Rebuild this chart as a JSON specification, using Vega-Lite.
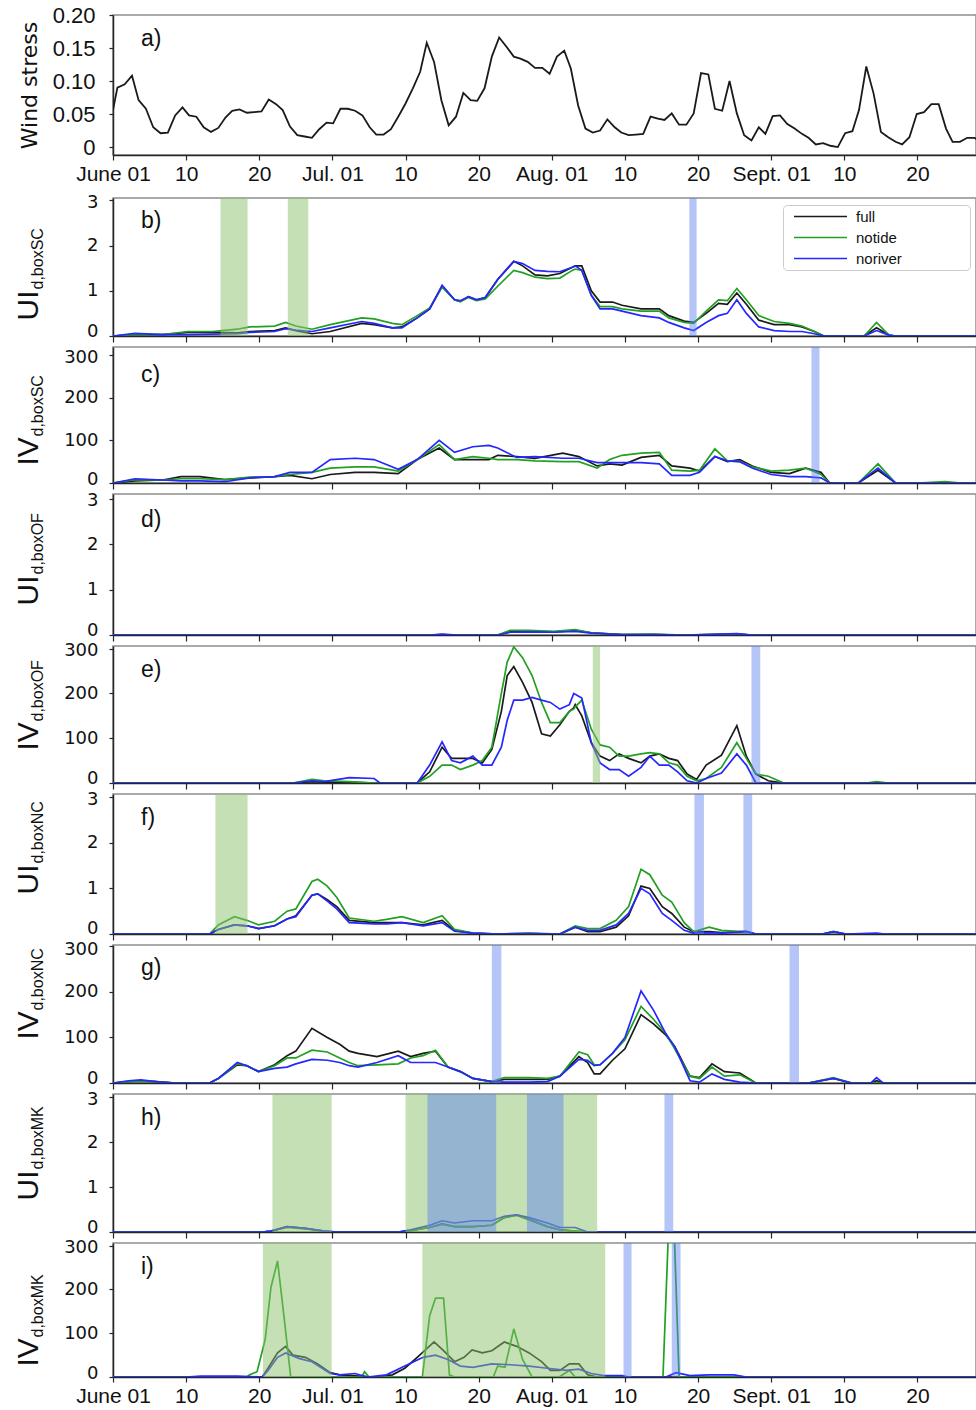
{
"$schema": "https://vega.github.io/schema/vega-lite/v6.json",
"padding": {"left": 12, "top": 3, "right": 0, "bottom": 0},
"background": "white",
"bounds": "flush",
"spacing": 43,
"resolve": {"scale": {"color": "independent"}},
"datasets": {
"wind": [
{"d":0,"v":0.056},{"d":0.6,"v":0.09},{"d":1.6,"v":0.095},{"d":2.6,"v":0.108},{"d":3.5,"v":0.071},{"d":4.5,"v":0.058},{"d":5.5,"v":0.03},{"d":6.5,"v":0.021},{"d":7.5,"v":0.022},{"d":8.5,"v":0.048},
{"d":9.5,"v":0.06},{"d":10.4,"v":0.048},{"d":11.4,"v":0.046},{"d":12.4,"v":0.03},{"d":13.4,"v":0.023},{"d":14.4,"v":0.029},{"d":15.4,"v":0.045},{"d":16.3,"v":0.055},{"d":17.3,"v":0.057},{"d":18.3,"v":0.052},
{"d":19.3,"v":0.053},{"d":20.3,"v":0.054},{"d":21.3,"v":0.072},{"d":22.3,"v":0.065},{"d":23.2,"v":0.056},{"d":24.2,"v":0.031},{"d":25.2,"v":0.018},{"d":26.2,"v":0.016},{"d":27.2,"v":0.014},{"d":28.2,"v":0.027},
{"d":29.2,"v":0.037},{"d":30.1,"v":0.036},{"d":31.1,"v":0.058},{"d":32.1,"v":0.058},{"d":33.1,"v":0.055},{"d":34.1,"v":0.048},{"d":35.1,"v":0.03},{"d":36,"v":0.019},{"d":37,"v":0.019},{"d":38,"v":0.027},
{"d":39,"v":0.046},{"d":40,"v":0.066},{"d":41,"v":0.089},{"d":42,"v":0.114},{"d":42.9,"v":0.158},{"d":43.9,"v":0.129},{"d":44.9,"v":0.071},{"d":45.9,"v":0.033},{"d":46.9,"v":0.046},{"d":47.9,"v":0.082},
{"d":48.9,"v":0.071},{"d":49.8,"v":0.07},{"d":50.8,"v":0.089},{"d":51.8,"v":0.137},{"d":52.8,"v":0.166},{"d":53.8,"v":0.152},{"d":54.8,"v":0.137},{"d":55.7,"v":0.134},{"d":56.7,"v":0.129},{"d":57.7,"v":0.12},
{"d":58.7,"v":0.12},{"d":59.7,"v":0.111},{"d":60.7,"v":0.137},{"d":61.7,"v":0.146},{"d":62.6,"v":0.119},{"d":63.6,"v":0.063},{"d":64.6,"v":0.028},{"d":65.6,"v":0.022},{"d":66.6,"v":0.025},{"d":67.6,"v":0.042},
{"d":68.6,"v":0.03},{"d":69.5,"v":0.022},{"d":70.5,"v":0.018},{"d":71.5,"v":0.019},{"d":72.5,"v":0.02},{"d":73.5,"v":0.046},{"d":74.5,"v":0.043},{"d":75.4,"v":0.041},{"d":76.4,"v":0.051},{"d":77.4,"v":0.034},
{"d":78.4,"v":0.034},{"d":79.4,"v":0.051},{"d":80.4,"v":0.112},{"d":81.4,"v":0.11},{"d":82.3,"v":0.058},{"d":83.3,"v":0.055},{"d":84.3,"v":0.1},{"d":85.3,"v":0.051},{"d":86.3,"v":0.018},{"d":87.3,"v":0.01},
{"d":88.3,"v":0.03},{"d":89.2,"v":0.02},{"d":90.2,"v":0.047},{"d":91.2,"v":0.048},{"d":92.2,"v":0.035},{"d":93.2,"v":0.028},{"d":94.2,"v":0.02},{"d":95.1,"v":0.014},{"d":96.1,"v":0.004},{"d":97.1,"v":0.006},
{"d":98.1,"v":0.002},{"d":99.1,"v":0},{"d":100.1,"v":0.021},{"d":101.1,"v":0.024},{"d":102,"v":0.056},{"d":103,"v":0.122},{"d":104,"v":0.081},{"d":105,"v":0.023},{"d":106,"v":0.015},{"d":107,"v":0.008},
{"d":107.9,"v":0.004},{"d":108.9,"v":0.015},{"d":109.9,"v":0.05},{"d":110.9,"v":0.053},{"d":111.9,"v":0.065},{"d":112.9,"v":0.065},{"d":113.9,"v":0.028},{"d":114.8,"v":0.008},{"d":115.8,"v":0.008},{"d":116.8,"v":0.014},
{"d":117.8,"v":0.014},{"d":118.5,"v":0.008}
],
"bands": [
{"p":"b","kind":"notide","d":14.7,"d2":18.4},
{"p":"b","kind":"notide","d":23.9,"d2":26.7},
{"p":"b","kind":"noriver","d":78.8,"d2":79.8},
{"p":"c","kind":"noriver","d":95.5,"d2":96.6},
{"p":"e","kind":"notide","d":65.6,"d2":66.6},
{"p":"e","kind":"noriver","d":87.3,"d2":88.5},
{"p":"f","kind":"notide","d":14.0,"d2":18.4},
{"p":"f","kind":"noriver","d":79.5,"d2":80.8},
{"p":"f","kind":"noriver","d":86.2,"d2":87.4},
{"p":"g","kind":"noriver","d":51.8,"d2":53.1},
{"p":"g","kind":"noriver","d":92.5,"d2":93.8},
{"p":"h","kind":"notide","d":21.8,"d2":29.9},
{"p":"h","kind":"notide","d":40.0,"d2":66.2},
{"p":"h","kind":"noriver","d":43.0,"d2":52.4},
{"p":"h","kind":"noriver","d":56.6,"d2":61.6},
{"p":"h","kind":"noriver","d":75.4,"d2":76.6},
{"p":"i","kind":"notide","d":20.5,"d2":29.9},
{"p":"i","kind":"notide","d":42.3,"d2":67.3},
{"p":"i","kind":"noriver","d":69.8,"d2":70.9},
{"p":"i","kind":"noriver","d":76.4,"d2":77.6}
],
"series": [
{"p":"b","d":0,"full":0,"notide":0,"noriver":0},
{"p":"b","d":3,"full":0.03,"notide":0.03,"noriver":0.06},
{"p":"b","d":6.8,"full":0.03,"notide":0.03,"noriver":0.03},
{"p":"b","d":10.2,"full":0.08,"notide":0.1,"noriver":0.03},
{"p":"b","d":13.6,"full":0.08,"notide":0.1,"noriver":0.04},
{"p":"b","d":17,"full":0.07,"notide":0.15,"noriver":0.05},
{"p":"b","d":18.7,"full":0.1,"notide":0.2,"noriver":0.08},
{"p":"b","d":22.1,"full":0.12,"notide":0.22,"noriver":0.1},
{"p":"b","d":23.6,"full":0.18,"notide":0.3,"noriver":0.16},
{"p":"b","d":25,"full":0.12,"notide":0.22,"noriver":0.13},
{"p":"b","d":27.2,"full":0.05,"notide":0.15,"noriver":0.1},
{"p":"b","d":29.7,"full":0.1,"notide":0.25,"noriver":0.18},
{"p":"b","d":34,"full":0.28,"notide":0.4,"noriver":0.32},
{"p":"b","d":35.7,"full":0.25,"notide":0.38,"noriver":0.28},
{"p":"b","d":38.2,"full":0.18,"notide":0.28,"noriver":0.18},
{"p":"b","d":39.5,"full":0.2,"notide":0.25,"noriver":0.18},
{"p":"b","d":41.6,"full":0.4,"notide":0.45,"noriver":0.4},
{"p":"b","d":43.3,"full":0.6,"notide":0.62,"noriver":0.6},
{"p":"b","d":45,"full":1.1,"notide":1.08,"noriver":1.12},
{"p":"b","d":46.7,"full":0.8,"notide":0.8,"noriver":0.8},
{"p":"b","d":47.5,"full":0.76,"notide":0.76,"noriver":0.78},
{"p":"b","d":48.6,"full":0.87,"notide":0.85,"noriver":0.87},
{"p":"b","d":49.7,"full":0.8,"notide":0.78,"noriver":0.8},
{"p":"b","d":50.9,"full":0.85,"notide":0.82,"noriver":0.85},
{"p":"b","d":52.6,"full":1.25,"notide":1.1,"noriver":1.25},
{"p":"b","d":54.8,"full":1.65,"notide":1.45,"noriver":1.65},
{"p":"b","d":56,"full":1.55,"notide":1.4,"noriver":1.6},
{"p":"b","d":57.7,"full":1.35,"notide":1.3,"noriver":1.45},
{"p":"b","d":59.4,"full":1.33,"notide":1.27,"noriver":1.43},
{"p":"b","d":61.1,"full":1.38,"notide":1.28,"noriver":1.42},
{"p":"b","d":62.8,"full":1.52,"notide":1.45,"noriver":1.52},
{"p":"b","d":63.2,"full":1.55,"notide":1.48,"noriver":1.55},
{"p":"b","d":64.1,"full":1.55,"notide":1.45,"noriver":1.45},
{"p":"b","d":65.4,"full":1,"notide":0.9,"noriver":0.9},
{"p":"b","d":66.6,"full":0.75,"notide":0.65,"noriver":0.6},
{"p":"b","d":68.3,"full":0.75,"notide":0.65,"noriver":0.6},
{"p":"b","d":69.6,"full":0.68,"notide":0.6,"noriver":0.55},
{"p":"b","d":72.2,"full":0.6,"notide":0.55,"noriver":0.45},
{"p":"b","d":74.7,"full":0.6,"notide":0.55,"noriver":0.4},
{"p":"b","d":76,"full":0.45,"notide":0.4,"noriver":0.3},
{"p":"b","d":78.1,"full":0.33,"notide":0.3,"noriver":0.18},
{"p":"b","d":79.4,"full":0.3,"notide":0.28,"noriver":0.12},
{"p":"b","d":81.1,"full":0.5,"notide":0.55,"noriver":0.3},
{"p":"b","d":82.8,"full":0.72,"notide":0.8,"noriver":0.45},
{"p":"b","d":84,"full":0.7,"notide":0.78,"noriver":0.5},
{"p":"b","d":85.3,"full":0.95,"notide":1.05,"noriver":0.8},
{"p":"b","d":86.6,"full":0.7,"notide":0.8,"noriver":0.5},
{"p":"b","d":88.3,"full":0.35,"notide":0.45,"noriver":0.2},
{"p":"b","d":90.4,"full":0.25,"notide":0.32,"noriver":0.12},
{"p":"b","d":92.5,"full":0.25,"notide":0.28,"noriver":0.1},
{"p":"b","d":94.2,"full":0.2,"notide":0.22,"noriver":0.1},
{"p":"b","d":95.9,"full":0.1,"notide":0.1,"noriver":0.05},
{"p":"b","d":97.2,"full":0,"notide":0,"noriver":0},
{"p":"b","d":102.7,"full":0,"notide":0,"noriver":0},
{"p":"b","d":104.4,"full":0.18,"notide":0.3,"noriver":0.12},
{"p":"b","d":106.1,"full":0.02,"notide":0.02,"noriver":0.02},
{"p":"b","d":107,"full":0,"notide":0,"noriver":0},
{"p":"b","d":118,"full":0,"notide":0,"noriver":0},

{"p":"c","d":0,"full":0,"notide":0,"noriver":0},
{"p":"c","d":3,"full":5,"notide":8,"noriver":10},
{"p":"c","d":6.8,"full":7,"notide":7,"noriver":7},
{"p":"c","d":9.3,"full":15,"notide":10,"noriver":5},
{"p":"c","d":11.9,"full":15,"notide":10,"noriver":5},
{"p":"c","d":15.3,"full":8,"notide":8,"noriver":3},
{"p":"c","d":18.7,"full":12,"notide":14,"noriver":12},
{"p":"c","d":22.1,"full":15,"notide":15,"noriver":15},
{"p":"c","d":24.2,"full":18,"notide":20,"noriver":25},
{"p":"c","d":27.2,"full":10,"notide":25,"noriver":25},
{"p":"c","d":29.7,"full":20,"notide":35,"noriver":55},
{"p":"c","d":33.1,"full":25,"notide":38,"noriver":58},
{"p":"c","d":35.7,"full":25,"notide":38,"noriver":55},
{"p":"c","d":39,"full":22,"notide":28,"noriver":32},
{"p":"c","d":41.6,"full":55,"notide":55,"noriver":55},
{"p":"c","d":44.6,"full":82,"notide":90,"noriver":100},
{"p":"c","d":46.7,"full":55,"notide":55,"noriver":72},
{"p":"c","d":49.2,"full":55,"notide":62,"noriver":85},
{"p":"c","d":51.4,"full":55,"notide":58,"noriver":88},
{"p":"c","d":52.6,"full":65,"notide":55,"noriver":82},
{"p":"c","d":55.2,"full":62,"notide":55,"noriver":60},
{"p":"c","d":57.7,"full":58,"notide":52,"noriver":62},
{"p":"c","d":61.5,"full":70,"notide":50,"noriver":58},
{"p":"c","d":63.7,"full":62,"notide":50,"noriver":58},
{"p":"c","d":66.2,"full":40,"notide":35,"noriver":48},
{"p":"c","d":67.9,"full":45,"notide":55,"noriver":48},
{"p":"c","d":69.6,"full":42,"notide":65,"noriver":48},
{"p":"c","d":72.2,"full":60,"notide":70,"noriver":48},
{"p":"c","d":74.7,"full":65,"notide":72,"noriver":45},
{"p":"c","d":76.4,"full":40,"notide":30,"noriver":18},
{"p":"c","d":78.9,"full":35,"notide":28,"noriver":18},
{"p":"c","d":80.2,"full":28,"notide":30,"noriver":25},
{"p":"c","d":82.3,"full":62,"notide":80,"noriver":62},
{"p":"c","d":84,"full":50,"notide":52,"noriver":52},
{"p":"c","d":85.7,"full":55,"notide":50,"noriver":50},
{"p":"c","d":87.4,"full":40,"notide":38,"noriver":35},
{"p":"c","d":90,"full":25,"notide":28,"noriver":20},
{"p":"c","d":92.5,"full":22,"notide":30,"noriver":15},
{"p":"c","d":94.7,"full":35,"notide":35,"noriver":15},
{"p":"c","d":96.8,"full":25,"notide":20,"noriver":12},
{"p":"c","d":98,"full":0,"notide":0,"noriver":0},
{"p":"c","d":101.9,"full":0,"notide":0,"noriver":0},
{"p":"c","d":104.6,"full":30,"notide":45,"noriver":35},
{"p":"c","d":107,"full":0,"notide":0,"noriver":0},
{"p":"c","d":110,"full":0,"notide":0,"noriver":0},
{"p":"c","d":113.8,"full":0,"notide":3,"noriver":0},
{"p":"c","d":116,"full":0,"notide":0,"noriver":0},
{"p":"c","d":118,"full":0,"notide":0,"noriver":0},

{"p":"d","d":0,"full":0,"notide":0,"noriver":0},
{"p":"d","d":43.3,"full":0,"notide":0,"noriver":0},
{"p":"d","d":45,"full":0.01,"notide":0,"noriver":0.02},
{"p":"d","d":47,"full":0,"notide":0,"noriver":0},
{"p":"d","d":52.6,"full":0,"notide":0,"noriver":0},
{"p":"d","d":54.3,"full":0.08,"notide":0.1,"noriver":0.06},
{"p":"d","d":56.9,"full":0.08,"notide":0.1,"noriver":0.07},
{"p":"d","d":60.3,"full":0.07,"notide":0.08,"noriver":0.06},
{"p":"d","d":63.2,"full":0.1,"notide":0.12,"noriver":0.08},
{"p":"d","d":65.4,"full":0.05,"notide":0.05,"noriver":0.04},
{"p":"d","d":69.6,"full":0.01,"notide":0.01,"noriver":0.01},
{"p":"d","d":73.9,"full":0.01,"notide":0.02,"noriver":0.01},
{"p":"d","d":78.1,"full":0,"notide":0,"noriver":0},
{"p":"d","d":85.3,"full":0.02,"notide":0.02,"noriver":0.03},
{"p":"d","d":87.4,"full":0,"notide":0,"noriver":0},
{"p":"d","d":118,"full":0,"notide":0,"noriver":0},

{"p":"e","d":0,"full":0,"notide":0,"noriver":0},
{"p":"e","d":24.6,"full":0,"notide":0,"noriver":0},
{"p":"e","d":27.2,"full":3,"notide":8,"noriver":5},
{"p":"e","d":28.9,"full":2,"notide":5,"noriver":3},
{"p":"e","d":32.3,"full":2,"notide":3,"noriver":12},
{"p":"e","d":35.7,"full":0,"notide":0,"noriver":10},
{"p":"e","d":36.5,"full":0,"notide":0,"noriver":0},
{"p":"e","d":41.6,"full":0,"notide":0,"noriver":0},
{"p":"e","d":43.3,"full":25,"notide":15,"noriver":40},
{"p":"e","d":45,"full":80,"notide":40,"noriver":92},
{"p":"e","d":46.3,"full":55,"notide":40,"noriver":50},
{"p":"e","d":47.5,"full":55,"notide":30,"noriver":45},
{"p":"e","d":49.2,"full":55,"notide":40,"noriver":60},
{"p":"e","d":50.5,"full":45,"notide":50,"noriver":40},
{"p":"e","d":51.8,"full":75,"notide":80,"noriver":40},
{"p":"e","d":53.1,"full":160,"notide":200,"noriver":80},
{"p":"e","d":53.9,"full":240,"notide":270,"noriver":140},
{"p":"e","d":54.8,"full":260,"notide":304,"noriver":185},
{"p":"e","d":56,"full":225,"notide":280,"noriver":185},
{"p":"e","d":57.3,"full":180,"notide":240,"noriver":191},
{"p":"e","d":58.6,"full":110,"notide":180,"noriver":185},
{"p":"e","d":59.8,"full":105,"notide":135,"noriver":180},
{"p":"e","d":61.1,"full":130,"notide":135,"noriver":165},
{"p":"e","d":62.4,"full":160,"notide":160,"noriver":175},
{"p":"e","d":63,"full":168,"notide":165,"noriver":200},
{"p":"e","d":63.2,"full":175,"notide":170,"noriver":198},
{"p":"e","d":64.1,"full":150,"notide":185,"noriver":190},
{"p":"e","d":65.4,"full":90,"notide":120,"noriver":90},
{"p":"e","d":66.6,"full":60,"notide":85,"noriver":45},
{"p":"e","d":67.9,"full":50,"notide":80,"noriver":30},
{"p":"e","d":69.2,"full":65,"notide":60,"noriver":30},
{"p":"e","d":70.5,"full":55,"notide":60,"noriver":15},
{"p":"e","d":72.2,"full":45,"notide":65,"noriver":35},
{"p":"e","d":73.4,"full":60,"notide":68,"noriver":60},
{"p":"e","d":74.7,"full":65,"notide":65,"noriver":40},
{"p":"e","d":76,"full":55,"notide":45,"noriver":40},
{"p":"e","d":77.2,"full":50,"notide":40,"noriver":25},
{"p":"e","d":78.5,"full":20,"notide":15,"noriver":5},
{"p":"e","d":79.8,"full":8,"notide":5,"noriver":0},
{"p":"e","d":81.1,"full":40,"notide":10,"noriver":10},
{"p":"e","d":83.2,"full":62,"notide":35,"noriver":22},
{"p":"e","d":85.3,"full":128,"notide":90,"noriver":65},
{"p":"e","d":86.6,"full":60,"notide":55,"noriver":40},
{"p":"e","d":87.9,"full":20,"notide":20,"noriver":0},
{"p":"e","d":89.6,"full":5,"notide":15,"noriver":0},
{"p":"e","d":91.7,"full":0,"notide":0,"noriver":0},
{"p":"e","d":103,"full":0,"notide":0,"noriver":0},
{"p":"e","d":104.4,"full":0,"notide":3,"noriver":0},
{"p":"e","d":106,"full":0,"notide":0,"noriver":0},
{"p":"e","d":118,"full":0,"notide":0,"noriver":0},

{"p":"f","d":0,"full":0,"notide":0,"noriver":0},
{"p":"f","d":13.2,"full":0,"notide":0,"noriver":0},
{"p":"f","d":14.4,"full":0.1,"notide":0.2,"noriver":0.1},
{"p":"f","d":16.6,"full":0.2,"notide":0.38,"noriver":0.2},
{"p":"f","d":18.3,"full":0.18,"notide":0.3,"noriver":0.18},
{"p":"f","d":19.9,"full":0.12,"notide":0.2,"noriver":0.12},
{"p":"f","d":22.1,"full":0.18,"notide":0.28,"noriver":0.18},
{"p":"f","d":23.8,"full":0.33,"notide":0.5,"noriver":0.33},
{"p":"f","d":25,"full":0.4,"notide":0.55,"noriver":0.38},
{"p":"f","d":27.2,"full":0.85,"notide":1.15,"noriver":0.85},
{"p":"f","d":28,"full":0.88,"notide":1.2,"noriver":0.88},
{"p":"f","d":29.3,"full":0.75,"notide":1.05,"noriver":0.72},
{"p":"f","d":30.6,"full":0.6,"notide":0.8,"noriver":0.55},
{"p":"f","d":32.3,"full":0.3,"notide":0.35,"noriver":0.25},
{"p":"f","d":35.7,"full":0.25,"notide":0.28,"noriver":0.22},
{"p":"f","d":37.4,"full":0.25,"notide":0.32,"noriver":0.22},
{"p":"f","d":39.5,"full":0.25,"notide":0.38,"noriver":0.25},
{"p":"f","d":42.4,"full":0.2,"notide":0.25,"noriver":0.18},
{"p":"f","d":45,"full":0.3,"notide":0.4,"noriver":0.25},
{"p":"f","d":46.7,"full":0.08,"notide":0.1,"noriver":0.06},
{"p":"f","d":49.2,"full":0.02,"notide":0.02,"noriver":0.02},
{"p":"f","d":52.6,"full":0,"notide":0,"noriver":0},
{"p":"f","d":56.9,"full":0.01,"notide":0.02,"noriver":0.01},
{"p":"f","d":61.1,"full":0,"notide":0,"noriver":0},
{"p":"f","d":63.2,"full":0.15,"notide":0.18,"noriver":0.15},
{"p":"f","d":64.9,"full":0.05,"notide":0.12,"noriver":0.08},
{"p":"f","d":66.6,"full":0.05,"notide":0.12,"noriver":0.08},
{"p":"f","d":68.8,"full":0.15,"notide":0.3,"noriver":0.2},
{"p":"f","d":70.5,"full":0.4,"notide":0.6,"noriver":0.45},
{"p":"f","d":72.2,"full":1.05,"notide":1.42,"noriver":1},
{"p":"f","d":73.4,"full":1,"notide":1.3,"noriver":0.88},
{"p":"f","d":75.1,"full":0.6,"notide":0.85,"noriver":0.45},
{"p":"f","d":76.4,"full":0.45,"notide":0.7,"noriver":0.3},
{"p":"f","d":78.1,"full":0.15,"notide":0.25,"noriver":0.08},
{"p":"f","d":79.4,"full":0.05,"notide":0.05,"noriver":0.02},
{"p":"f","d":81.5,"full":0.05,"notide":0.15,"noriver":0.03},
{"p":"f","d":83.2,"full":0.03,"notide":0.08,"noriver":0.02},
{"p":"f","d":86.6,"full":0.06,"notide":0.05,"noriver":0.05},
{"p":"f","d":87.9,"full":0,"notide":0,"noriver":0},
{"p":"f","d":97,"full":0,"notide":0,"noriver":0},
{"p":"f","d":98.5,"full":0.05,"notide":0.05,"noriver":0.05},
{"p":"f","d":100.2,"full":0,"notide":0,"noriver":0},
{"p":"f","d":104.4,"full":0,"notide":0,"noriver":0.02},
{"p":"f","d":105.5,"full":0,"notide":0,"noriver":0},
{"p":"f","d":118,"full":0,"notide":0,"noriver":0},

{"p":"g","d":0,"full":0,"notide":0,"noriver":0},
{"p":"g","d":2.1,"full":3,"notide":3,"noriver":5},
{"p":"g","d":3.8,"full":4,"notide":4,"noriver":7},
{"p":"g","d":5.9,"full":3,"notide":3,"noriver":3},
{"p":"g","d":8.5,"full":0,"notide":0,"noriver":0},
{"p":"g","d":13.2,"full":0,"notide":0,"noriver":0},
{"p":"g","d":14.4,"full":10,"notide":10,"noriver":10},
{"p":"g","d":17,"full":40,"notide":42,"noriver":45},
{"p":"g","d":18.3,"full":38,"notide":38,"noriver":38},
{"p":"g","d":19.9,"full":25,"notide":25,"noriver":25},
{"p":"g","d":22.1,"full":40,"notide":38,"noriver":32},
{"p":"g","d":23.8,"full":60,"notide":55,"noriver":35},
{"p":"g","d":25,"full":70,"notide":55,"noriver":42},
{"p":"g","d":27.2,"full":120,"notide":72,"noriver":52},
{"p":"g","d":29.3,"full":100,"notide":68,"noriver":50},
{"p":"g","d":31,"full":85,"notide":55,"noriver":45},
{"p":"g","d":32.3,"full":70,"notide":45,"noriver":38},
{"p":"g","d":33.5,"full":65,"notide":38,"noriver":35},
{"p":"g","d":36.1,"full":58,"notide":40,"noriver":45},
{"p":"g","d":39,"full":70,"notide":42,"noriver":60},
{"p":"g","d":40.7,"full":58,"notide":55,"noriver":45},
{"p":"g","d":42.4,"full":65,"notide":60,"noriver":45},
{"p":"g","d":44.1,"full":70,"notide":72,"noriver":45},
{"p":"g","d":45.8,"full":35,"notide":35,"noriver":35},
{"p":"g","d":47.5,"full":25,"notide":25,"noriver":25},
{"p":"g","d":49.2,"full":10,"notide":10,"noriver":10},
{"p":"g","d":51.8,"full":3,"notide":3,"noriver":3},
{"p":"g","d":53.5,"full":8,"notide":12,"noriver":2},
{"p":"g","d":56.9,"full":8,"notide":12,"noriver":2},
{"p":"g","d":59.4,"full":8,"notide":10,"noriver":3},
{"p":"g","d":61.1,"full":15,"notide":15,"noriver":15},
{"p":"g","d":63.7,"full":58,"notide":68,"noriver":52},
{"p":"g","d":64.9,"full":45,"notide":62,"noriver":50},
{"p":"g","d":65.8,"full":20,"notide":40,"noriver":38},
{"p":"g","d":66.6,"full":20,"notide":40,"noriver":40},
{"p":"g","d":68.3,"full":50,"notide":65,"noriver":65},
{"p":"g","d":70,"full":75,"notide":95,"noriver":100},
{"p":"g","d":72.2,"full":150,"notide":168,"noriver":202},
{"p":"g","d":73.9,"full":130,"notide":140,"noriver":160},
{"p":"g","d":75.6,"full":105,"notide":108,"noriver":108},
{"p":"g","d":76.8,"full":80,"notide":75,"noriver":80},
{"p":"g","d":78.9,"full":15,"notide":15,"noriver":5},
{"p":"g","d":80.2,"full":12,"notide":10,"noriver":2},
{"p":"g","d":81.9,"full":42,"notide":35,"noriver":20},
{"p":"g","d":83.6,"full":25,"notide":15,"noriver":8},
{"p":"g","d":85.7,"full":22,"notide":18,"noriver":2},
{"p":"g","d":87.9,"full":0,"notide":0,"noriver":0},
{"p":"g","d":95.1,"full":0,"notide":0,"noriver":0},
{"p":"g","d":98.5,"full":10,"notide":12,"noriver":10},
{"p":"g","d":101,"full":0,"notide":0,"noriver":0},
{"p":"g","d":103.6,"full":0,"notide":0,"noriver":0},
{"p":"g","d":104.4,"full":5,"notide":0,"noriver":12},
{"p":"g","d":105.3,"full":0,"notide":0,"noriver":0},
{"p":"g","d":118,"full":0,"notide":0,"noriver":0},

{"p":"h","d":0,"full":0,"notide":0,"noriver":0},
{"p":"h","d":20.4,"full":0,"notide":0,"noriver":0},
{"p":"h","d":21.6,"full":0.02,"notide":0.02,"noriver":0.02},
{"p":"h","d":23.8,"full":0.12,"notide":0.1,"noriver":0.12},
{"p":"h","d":26.3,"full":0.08,"notide":0.07,"noriver":0.08},
{"p":"h","d":28.9,"full":0.02,"notide":0.02,"noriver":0.02},
{"p":"h","d":30.6,"full":0,"notide":0,"noriver":0},
{"p":"h","d":39,"full":0,"notide":0,"noriver":0},
{"p":"h","d":40.7,"full":0.03,"notide":0.03,"noriver":0.05},
{"p":"h","d":43.3,"full":0.1,"notide":0.1,"noriver":0.15},
{"p":"h","d":45,"full":0.18,"notide":0.17,"noriver":0.25},
{"p":"h","d":46.7,"full":0.12,"notide":0.12,"noriver":0.2},
{"p":"h","d":49.2,"full":0.12,"notide":0.12,"noriver":0.25},
{"p":"h","d":51.8,"full":0.15,"notide":0.15,"noriver":0.25},
{"p":"h","d":53.5,"full":0.32,"notide":0.32,"noriver":0.35},
{"p":"h","d":55.2,"full":0.38,"notide":0.37,"noriver":0.38},
{"p":"h","d":56.9,"full":0.28,"notide":0.27,"noriver":0.32},
{"p":"h","d":59.4,"full":0.12,"notide":0.12,"noriver":0.2},
{"p":"h","d":61.1,"full":0.05,"notide":0.05,"noriver":0.1},
{"p":"h","d":63.2,"full":0.02,"notide":0.02,"noriver":0.1},
{"p":"h","d":64.9,"full":0,"notide":0,"noriver":0},
{"p":"h","d":118,"full":0,"notide":0,"noriver":0},

{"p":"i","d":0,"full":0,"notide":0,"noriver":0},
{"p":"i","d":10,"noriver":0},
{"p":"i","d":12,"noriver":2},
{"p":"i","d":17,"noriver":2},
{"p":"i","d":18.3,"notide":0},
{"p":"i","d":18.7,"notide":5},
{"p":"i","d":19.7,"notide":12},
{"p":"i","d":20.4,"full":0,"noriver":0},
{"p":"i","d":20.8,"notide":85},
{"p":"i","d":21.2,"full":20,"noriver":15},
{"p":"i","d":21.6,"notide":205},
{"p":"i","d":22.5,"full":55,"notide":265,"noriver":45},
{"p":"i","d":23.3,"notide":150},
{"p":"i","d":23.6,"full":70,"noriver":55},
{"p":"i","d":24.3,"notide":0},
{"p":"i","d":24.6,"full":50},
{"p":"i","d":25.5,"noriver":42},
{"p":"i","d":26.3,"full":45},
{"p":"i","d":27.2,"noriver":35},
{"p":"i","d":28,"full":30},
{"p":"i","d":29.7,"full":10,"noriver":8},
{"p":"i","d":31,"full":5,"noriver":5},
{"p":"i","d":33.1,"noriver":8},
{"p":"i","d":34,"notide":0},
{"p":"i","d":34.4,"notide":12},
{"p":"i","d":34.8,"noriver":0},
{"p":"i","d":35,"notide":0},
{"p":"i","d":35.7,"full":0},
{"p":"i","d":37.4,"noriver":5},
{"p":"i","d":38.2,"full":5},
{"p":"i","d":39.9,"full":20,"noriver":25},
{"p":"i","d":41.6,"full":45},
{"p":"i","d":42.3,"notide":0},
{"p":"i","d":42.4,"noriver":45},
{"p":"i","d":43.3,"notide":140},
{"p":"i","d":43.9,"full":80},
{"p":"i","d":44.1,"notide":180,"noriver":50},
{"p":"i","d":45.2,"full":60,"notide":180},
{"p":"i","d":45.8,"noriver":40},
{"p":"i","d":46,"notide":5},
{"p":"i","d":46.7,"full":35,"notide":0},
{"p":"i","d":47.5,"noriver":25},
{"p":"i","d":48,"full":45},
{"p":"i","d":49.1,"full":62},
{"p":"i","d":49.2,"noriver":22},
{"p":"i","d":50.5,"full":55},
{"p":"i","d":51.8,"full":60,"noriver":30},
{"p":"i","d":52,"notide":0},
{"p":"i","d":52.6,"notide":25},
{"p":"i","d":53.5,"full":80},
{"p":"i","d":53.6,"notide":22},
{"p":"i","d":54.3,"noriver":28},
{"p":"i","d":54.8,"notide":110},
{"p":"i","d":55.2,"full":70},
{"p":"i","d":56,"notide":40},
{"p":"i","d":56.9,"full":55,"noriver":25},
{"p":"i","d":57.3,"notide":0},
{"p":"i","d":58.6,"full":35},
{"p":"i","d":59.4,"noriver":20},
{"p":"i","d":59.8,"full":15},
{"p":"i","d":61,"notide":0},
{"p":"i","d":61.1,"full":15},
{"p":"i","d":62,"noriver":15},
{"p":"i","d":62.4,"full":30,"notide":15},
{"p":"i","d":63.2,"notide":0},
{"p":"i","d":63.7,"full":30,"noriver":18},
{"p":"i","d":64.9,"full":5},
{"p":"i","d":65.4,"noriver":8},
{"p":"i","d":66.2,"full":0},
{"p":"i","d":67.1,"noriver":3},
{"p":"i","d":69.6,"noriver":3},
{"p":"i","d":70.5,"noriver":0},
{"p":"i","d":75.2,"notide":0},
{"p":"i","d":75.6,"noriver":0},
{"p":"i","d":76.1,"notide":400},
{"p":"i","d":76.6,"notide":400},
{"p":"i","d":77,"noriver":10},
{"p":"i","d":77.4,"notide":0},
{"p":"i","d":78.9,"noriver":3},
{"p":"i","d":81.5,"noriver":5},
{"p":"i","d":84.9,"noriver":5},
{"p":"i","d":86.6,"noriver":0},
{"p":"i","d":118,"full":0,"notide":0,"noriver":0}
]
},
"vconcat": [
{
"width": 863, "height": 140,
"title": {"text": "a)", "offset": -47},
"data": {"name": "wind"},
"mark": {"type": "line", "color": "#1a1a1a", "strokeWidth": 1.8, "clip": true},
"encoding": {
"x": {"field": "d", "type": "quantitative", "scale": {"domain": [0, 118], "nice": false, "zero": false},
 "axis": {"values": [0,10,20,30,40,50,60,70,80,90,100,110], "title": null, "tickSize": 5, "labelPadding": 3, "labelFont": "Liberation Sans", "labelFontSize": 21, "labelOverlap": false, "labelFlush": false, "labelExpr": "['June 01','10','20','Jul. 01','10','20','Aug. 01','10','20','Sept. 01','10','20'][round(datum.value/10)]"}},
"y": {"field": "v", "type": "quantitative", "scale": {"domain": [-0.012, 0.2], "nice": false, "zero": false},
 "axis": {"values": [0,0.05,0.1,0.15,0.2], "labelExpr": "datum.value == 0 ? '0' : format(datum.value, '.2f')", "title": "Wind stress", "titleFont": "DejaVu Sans", "titleFontSize": 22, "titleAlign": "center", "titleX": -77, "titleY": 70, "labelFont": "Liberation Sans", "labelFontSize": 22, "labelPadding": 14}}
}
},
{
"bounds": "flush",
"spacing": 11,
"resolve": {"scale": {"color": "independent"}},
"vconcat": [
{
"width": 863, "height": 138, "title": "b)",
"encoding": {"x": {"field": "d", "type": "quantitative", "scale": {"domain": [0, 118], "nice": false}, "axis": {"values": [0,10,20,30,40,50,60,70,80,90,100,110], "labels": false, "title": null}}},
"layer": [
{"data": {"name": "series"}, "transform": [{"filter": "datum.p == 'b'"}, {"fold": ["full","notide","noriver"], "as": ["run","value"]}, {"filter": "isValid(datum.value)"}],
 "mark": {"type": "line", "clip": true, "strokeWidth": 1.7},
 "encoding": {"y": {"field": "value", "type": "quantitative", "scale": {"domain": [0, 3.05], "nice": false}, "axis": {"values": [0,1,2,3], "title": "UI", "titleY": 122, "labelOffset": {"condition": [{"test": "datum.value == 0", "value": -5}, {"test": "datum.value == 3", "value": 2}], "value": 0}}},
  "color": {"field": "run", "type": "nominal", "scale": {"domain": ["full","notide","noriver"], "range": ["#1a1a1a","#22a022","#2626ff"]},
   "legend": {"orient": "none", "legendX": 670, "legendY": 7, "title": null, "symbolType": "stroke", "symbolSize": 2809, "symbolStrokeWidth": 1.6, "symbolOffset": 9, "clipHeight": 21, "padding": 1, "rowPadding": 0, "labelOffset": 8, "labelLimit": 300, "labelFont": "Liberation Sans", "labelFontSize": 15, "labelColor": "#111", "strokeColor": "#cccccc", "fillColor": "white", "cornerRadius": 4, "labelExpr": "datum.label + '\u00a0\u00a0\u00a0\u00a0\u00a0\u00a0\u00a0\u00a0\u00a0\u00a0\u00a0\u00a0\u00a0\u00a0\u00a0\u00a0\u200b'"}}}},
{"data": {"name": "bands"}, "transform": [{"filter": "datum.p == 'b' && datum.kind == 'notide'"}],
 "mark": {"type": "rect", "color": "#8bc169", "opacity": 0.5},
 "encoding": {"x2": {"field": "d2"}, "y": {"datum": 0, "type": "quantitative", "axis": {"orient": "right", "title": "d,boxSC", "titleY": 91}}, "y2": {"datum": 3.05}}},
{"data": {"name": "bands"}, "transform": [{"filter": "datum.p == 'b' && datum.kind == 'noriver'"}],
 "mark": {"type": "rect", "color": "#5a7ff0", "opacity": 0.45},
 "encoding": {"x2": {"field": "d2"}, "y": {"datum": 0, "type": "quantitative", "axis": null}, "y2": {"datum": 3.05}}}
],
"resolve": {"axis": {"y": "independent"}}
},
{
"width": 863, "height": 136, "title": "c)",
"encoding": {"x": {"field": "d", "type": "quantitative", "scale": {"domain": [0, 118], "nice": false}, "axis": {"values": [0,10,20,30,40,50,60,70,80,90,100,110], "labels": false, "title": null}}},
"layer": [
{"data": {"name": "series"}, "transform": [{"filter": "datum.p == 'c'"}, {"fold": ["full","notide","noriver"], "as": ["run","value"]}, {"filter": "isValid(datum.value)"}],
 "mark": {"type": "line", "clip": true, "strokeWidth": 1.7},
 "encoding": {"y": {"field": "value", "type": "quantitative", "scale": {"domain": [0, 319], "nice": false}, "axis": {"values": [0,100,200,300], "title": "IV", "titleY": 118, "labelOffset": {"condition": [{"test": "datum.value == 0", "value": -4}, {"test": "datum.value == 300", "value": 2}], "value": 0}}},
  "color": {"field": "run", "type": "nominal", "scale": {"domain": ["full","notide","noriver"], "range": ["#1a1a1a","#22a022","#2626ff"]}, "legend": null}}},
{"data": {"name": "bands"}, "transform": [{"filter": "datum.p == 'c' && datum.kind == 'notide'"}],
 "mark": {"type": "rect", "color": "#8bc169", "opacity": 0.5},
 "encoding": {"x2": {"field": "d2"}, "y": {"datum": 0, "type": "quantitative", "axis": {"orient": "right", "title": "d,boxSC", "titleY": 89}}, "y2": {"datum": 319}}},
{"data": {"name": "bands"}, "transform": [{"filter": "datum.p == 'c' && datum.kind == 'noriver'"}],
 "mark": {"type": "rect", "color": "#5a7ff0", "opacity": 0.45},
 "encoding": {"x2": {"field": "d2"}, "y": {"datum": 0, "type": "quantitative", "axis": null}, "y2": {"datum": 319}}}
],
"resolve": {"axis": {"y": "independent"}}
},
{
"width": 863, "height": 141, "title": "d)",
"encoding": {"x": {"field": "d", "type": "quantitative", "scale": {"domain": [0, 118], "nice": false}, "axis": {"values": [0,10,20,30,40,50,60,70,80,90,100,110], "labels": false, "title": null}}},
"layer": [
{"data": {"name": "series"}, "transform": [{"filter": "datum.p == 'd'"}, {"fold": ["full","notide","noriver"], "as": ["run","value"]}, {"filter": "isValid(datum.value)"}],
 "mark": {"type": "line", "clip": true, "strokeWidth": 1.7},
 "encoding": {"y": {"field": "value", "type": "quantitative", "scale": {"domain": [0, 3.1], "nice": false}, "axis": {"values": [0,1,2,3], "title": "UI", "titleY": 111, "labelOffset": {"condition": [{"test": "datum.value == 0", "value": -5}, {"test": "datum.value == 3", "value": 2}], "value": 0}}},
  "color": {"field": "run", "type": "nominal", "scale": {"domain": ["full","notide","noriver"], "range": ["#1a1a1a","#22a022","#2626ff"]}, "legend": null}}},
{"data": {"name": "bands"}, "transform": [{"filter": "datum.p == 'd' && datum.kind == 'notide'"}],
 "mark": {"type": "rect", "color": "#8bc169", "opacity": 0.5},
 "encoding": {"x2": {"field": "d2"}, "y": {"datum": 0, "type": "quantitative", "axis": {"orient": "right", "title": "d,boxOF", "titleY": 80}}, "y2": {"datum": 3.1}}},
{"data": {"name": "bands"}, "transform": [{"filter": "datum.p == 'd' && datum.kind == 'noriver'"}],
 "mark": {"type": "rect", "color": "#5a7ff0", "opacity": 0.45},
 "encoding": {"x2": {"field": "d2"}, "y": {"datum": 0, "type": "quantitative", "axis": null}, "y2": {"datum": 3.1}}}
],
"resolve": {"axis": {"y": "independent"}}
},
{
"width": 863, "height": 137, "title": "e)",
"encoding": {"x": {"field": "d", "type": "quantitative", "scale": {"domain": [0, 118], "nice": false}, "axis": {"values": [0,10,20,30,40,50,60,70,80,90,100,110], "labels": false, "title": null}}},
"layer": [
{"data": {"name": "series"}, "transform": [{"filter": "datum.p == 'e'"}, {"fold": ["full","notide","noriver"], "as": ["run","value"]}, {"filter": "isValid(datum.value)"}],
 "mark": {"type": "line", "clip": true, "strokeWidth": 1.7},
 "encoding": {"y": {"field": "value", "type": "quantitative", "scale": {"domain": [0, 306], "nice": false}, "axis": {"values": [0,100,200,300], "title": "IV", "titleY": 104, "labelOffset": {"condition": [{"test": "datum.value == 0", "value": -5}, {"test": "datum.value == 300", "value": 2}], "value": 0}}},
  "color": {"field": "run", "type": "nominal", "scale": {"domain": ["full","notide","noriver"], "range": ["#1a1a1a","#22a022","#2626ff"]}, "legend": null}}},
{"data": {"name": "bands"}, "transform": [{"filter": "datum.p == 'e' && datum.kind == 'notide'"}],
 "mark": {"type": "rect", "color": "#8bc169", "opacity": 0.5},
 "encoding": {"x2": {"field": "d2"}, "y": {"datum": 0, "type": "quantitative", "axis": {"orient": "right", "title": "d,boxOF", "titleY": 75}}, "y2": {"datum": 306}}},
{"data": {"name": "bands"}, "transform": [{"filter": "datum.p == 'e' && datum.kind == 'noriver'"}],
 "mark": {"type": "rect", "color": "#5a7ff0", "opacity": 0.45},
 "encoding": {"x2": {"field": "d2"}, "y": {"datum": 0, "type": "quantitative", "axis": null}, "y2": {"datum": 306}}}
],
"resolve": {"axis": {"y": "independent"}}
},
{
"width": 863, "height": 140, "title": "f)",
"encoding": {"x": {"field": "d", "type": "quantitative", "scale": {"domain": [0, 118], "nice": false}, "axis": {"values": [0,10,20,30,40,50,60,70,80,90,100,110], "labels": false, "title": null}}},
"layer": [
{"data": {"name": "series"}, "transform": [{"filter": "datum.p == 'f'"}, {"fold": ["full","notide","noriver"], "as": ["run","value"]}, {"filter": "isValid(datum.value)"}],
 "mark": {"type": "line", "clip": true, "strokeWidth": 1.7},
 "encoding": {"y": {"field": "value", "type": "quantitative", "scale": {"domain": [0, 3.07], "nice": false}, "axis": {"values": [0,1,2,3], "title": "UI", "titleY": 100, "labelOffset": {"condition": [{"test": "datum.value == 0", "value": -6}, {"test": "datum.value == 3", "value": 2}], "value": 0}}},
  "color": {"field": "run", "type": "nominal", "scale": {"domain": ["full","notide","noriver"], "range": ["#1a1a1a","#22a022","#2626ff"]}, "legend": null}}},
{"data": {"name": "bands"}, "transform": [{"filter": "datum.p == 'f' && datum.kind == 'notide'"}],
 "mark": {"type": "rect", "color": "#8bc169", "opacity": 0.5},
 "encoding": {"x2": {"field": "d2"}, "y": {"datum": 0, "type": "quantitative", "axis": {"orient": "right", "title": "d,boxNC", "titleY": 69}}, "y2": {"datum": 3.07}}},
{"data": {"name": "bands"}, "transform": [{"filter": "datum.p == 'f' && datum.kind == 'noriver'"}],
 "mark": {"type": "rect", "color": "#5a7ff0", "opacity": 0.45},
 "encoding": {"x2": {"field": "d2"}, "y": {"datum": 0, "type": "quantitative", "axis": null}, "y2": {"datum": 3.07}}}
],
"resolve": {"axis": {"y": "independent"}}
},
{
"width": 863, "height": 138, "title": "g)",
"encoding": {"x": {"field": "d", "type": "quantitative", "scale": {"domain": [0, 118], "nice": false}, "axis": {"values": [0,10,20,30,40,50,60,70,80,90,100,110], "labels": false, "title": null}}},
"layer": [
{"data": {"name": "series"}, "transform": [{"filter": "datum.p == 'g'"}, {"fold": ["full","notide","noriver"], "as": ["run","value"]}, {"filter": "isValid(datum.value)"}],
 "mark": {"type": "line", "clip": true, "strokeWidth": 1.7},
 "encoding": {"y": {"field": "value", "type": "quantitative", "scale": {"domain": [0, 303], "nice": false}, "axis": {"values": [0,100,200,300], "title": "IV", "titleY": 94, "labelOffset": {"condition": [{"test": "datum.value == 0", "value": -5}, {"test": "datum.value == 300", "value": 3}], "value": 0}}},
  "color": {"field": "run", "type": "nominal", "scale": {"domain": ["full","notide","noriver"], "range": ["#1a1a1a","#22a022","#2626ff"]}, "legend": null}}},
{"data": {"name": "bands"}, "transform": [{"filter": "datum.p == 'g' && datum.kind == 'notide'"}],
 "mark": {"type": "rect", "color": "#8bc169", "opacity": 0.5},
 "encoding": {"x2": {"field": "d2"}, "y": {"datum": 0, "type": "quantitative", "axis": {"orient": "right", "title": "d,boxNC", "titleY": 65}}, "y2": {"datum": 303}}},
{"data": {"name": "bands"}, "transform": [{"filter": "datum.p == 'g' && datum.kind == 'noriver'"}],
 "mark": {"type": "rect", "color": "#5a7ff0", "opacity": 0.45},
 "encoding": {"x2": {"field": "d2"}, "y": {"datum": 0, "type": "quantitative", "axis": null}, "y2": {"datum": 303}}}
],
"resolve": {"axis": {"y": "independent"}}
},
{
"width": 863, "height": 138, "title": "h)",
"encoding": {"x": {"field": "d", "type": "quantitative", "scale": {"domain": [0, 118], "nice": false}, "axis": {"values": [0,10,20,30,40,50,60,70,80,90,100,110], "labels": false, "title": null}}},
"layer": [
{"data": {"name": "series"}, "transform": [{"filter": "datum.p == 'h'"}, {"fold": ["full","notide","noriver"], "as": ["run","value"]}, {"filter": "isValid(datum.value)"}],
 "mark": {"type": "line", "clip": true, "strokeWidth": 1.7},
 "encoding": {"y": {"field": "value", "type": "quantitative", "scale": {"domain": [0, 3.07], "nice": false}, "axis": {"values": [0,1,2,3], "title": "UI", "titleY": 106, "labelOffset": {"condition": [{"test": "datum.value == 0", "value": -5}, {"test": "datum.value == 3", "value": 2}], "value": 0}}},
  "color": {"field": "run", "type": "nominal", "scale": {"domain": ["full","notide","noriver"], "range": ["#1a1a1a","#22a022","#2626ff"]}, "legend": null}}},
{"data": {"name": "bands"}, "transform": [{"filter": "datum.p == 'h' && datum.kind == 'notide'"}],
 "mark": {"type": "rect", "color": "#8bc169", "opacity": 0.5},
 "encoding": {"x2": {"field": "d2"}, "y": {"datum": 0, "type": "quantitative", "axis": {"orient": "right", "title": "d,boxMK", "titleY": 75}}, "y2": {"datum": 3.07}}},
{"data": {"name": "bands"}, "transform": [{"filter": "datum.p == 'h' && datum.kind == 'noriver'"}],
 "mark": {"type": "rect", "color": "#5a7ff0", "opacity": 0.45},
 "encoding": {"x2": {"field": "d2"}, "y": {"datum": 0, "type": "quantitative", "axis": null}, "y2": {"datum": 3.07}}}
],
"resolve": {"axis": {"y": "independent"}}
},
{
"width": 863, "height": 134, "title": "i)",
"encoding": {"x": {"field": "d", "type": "quantitative", "scale": {"domain": [0, 118], "nice": false},
 "axis": {"values": [0,10,20,30,40,50,60,70,80,90,100,110], "title": null, "tickSize": 5, "labelPadding": 3, "labelFont": "Liberation Sans", "labelFontSize": 21, "labelOverlap": false, "labelFlush": false, "labelExpr": "['June 01','10','20','Jul. 01','10','20','Aug. 01','10','20','Sept. 01','10','20'][round(datum.value/10)]"}}},
"layer": [
{"data": {"name": "series"}, "transform": [{"filter": "datum.p == 'i'"}, {"fold": ["full","notide","noriver"], "as": ["run","value"]}, {"filter": "isValid(datum.value)"}],
 "mark": {"type": "line", "clip": true, "strokeWidth": 1.7},
 "encoding": {"y": {"field": "value", "type": "quantitative", "scale": {"domain": [0, 306], "nice": false}, "axis": {"values": [0,100,200,300], "title": "IV", "titleY": 123, "labelOffset": {"condition": [{"test": "datum.value == 0", "value": -4}, {"test": "datum.value == 300", "value": 2}], "value": 0}}},
  "color": {"field": "run", "type": "nominal", "scale": {"domain": ["full","notide","noriver"], "range": ["#1a1a1a","#22a022","#2626ff"]}, "legend": null}}},
{"data": {"name": "bands"}, "transform": [{"filter": "datum.p == 'i' && datum.kind == 'notide'"}],
 "mark": {"type": "rect", "color": "#8bc169", "opacity": 0.5},
 "encoding": {"x2": {"field": "d2"}, "y": {"datum": 0, "type": "quantitative", "axis": {"orient": "right", "title": "d,boxMK", "titleY": 94}}, "y2": {"datum": 306}}},
{"data": {"name": "bands"}, "transform": [{"filter": "datum.p == 'i' && datum.kind == 'noriver'"}],
 "mark": {"type": "rect", "color": "#5a7ff0", "opacity": 0.45},
 "encoding": {"x2": {"field": "d2"}, "y": {"datum": 0, "type": "quantitative", "axis": null}, "y2": {"datum": 306}}}
],
"resolve": {"axis": {"y": "independent"}}
}
]
}
],
"config": {
"view": {"stroke": "#8f8f8f", "strokeWidth": 1.5},
"axis": {"grid": false, "domainColor": "#262626", "domainWidth": 1.5, "tickColor": "#262626", "tickWidth": 1.2, "labelColor": "#111111", "titleColor": "#111111"},
"axisBottom": {"tickSize": 6},
"axisLeft": {"titleFont": "Liberation Sans", "titleFontSize": 30, "titleFontWeight": "normal", "titleAngle": 270, "titleAlign": "left", "titleBaseline": "alphabetic", "titleX": -76, "labelFont": "DejaVu Sans", "labelFontSize": 18, "tickSize": 4, "labelPadding": 11},
"axisRight": {"domain": false, "ticks": false, "labels": false, "titleFont": "Liberation Sans", "titleFontSize": 16, "titleFontWeight": "normal", "titleAngle": 270, "titleAlign": "left", "titleBaseline": "alphabetic", "titleX": -934, "titleColor": "#111111"},
"title": {"anchor": "start", "frame": "group", "orient": "top", "offset": -40, "dx": 28, "font": "Liberation Sans", "fontSize": 23, "fontWeight": "normal", "color": "#111111"}
}
}
